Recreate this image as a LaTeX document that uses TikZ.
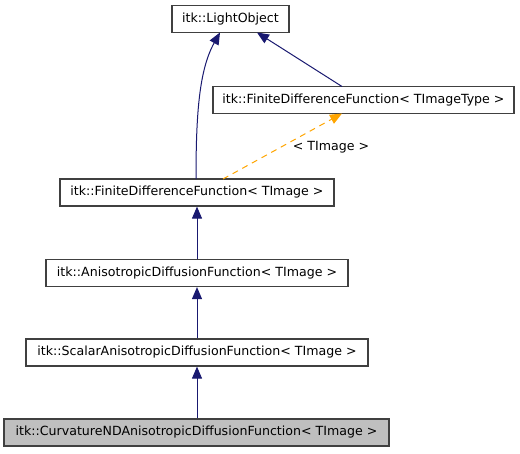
\documentclass[tikz,border=0pt]{standalone}
\usepackage{fontspec}
\setmainfont{DejaVu Sans}
\usetikzlibrary{arrows.meta}
\definecolor{edgeblue}{HTML}{191970}
\definecolor{edgeorange}{HTML}{FFA500}
\definecolor{boxline}{HTML}{404040}
\definecolor{boxgray}{HTML}{BFBFBF}
\begin{document}
\begin{tikzpicture}[x=1pt,y=-1pt,
  cls/.style={draw=boxline,line width=1.2pt,fill=white,minimum height=27pt,inner sep=0pt,font=\fontsize{12.6}{14}\selectfont},
  inh/.style={draw=edgeblue,line width=1pt,-{Triangle[length=12pt,width=10pt]}},
  tmpl/.style={draw=edgeorange,line width=1pt,dash pattern=on 6pt off 5pt,-{Triangle[length=12pt,width=10pt]}},
  lbl/.style={font=\fontsize{12.6}{14}\selectfont,inner sep=0pt}]
\useasboundingbox (0,0) rectangle (520,453);
\node[cls,minimum width=117pt] (lo) at (230.5,19) {itk::LightObject};
\node[cls,minimum width=301pt] (tt) at (363.5,100) {itk::FiniteDifferenceFunction< TImageType >};
\node[cls,minimum width=274pt] (fd) at (197,192.5) {itk::FiniteDifferenceFunction< TImage >};
\node[cls,minimum width=302pt] (ad) at (197,273) {itk::AnisotropicDiffusionFunction< TImage >};
\node[cls,minimum width=342pt] (sa) at (197,352.5) {itk::ScalarAnisotropicDiffusionFunction< TImage >};
\node[cls,minimum width=385pt,fill=boxgray] (cu) at (196.5,432.5) {itk::CurvatureNDAnisotropicDiffusionFunction< TImage >};
\coordinate (loA) at (220,32.5);
\coordinate (loB) at (257,32.5);
\coordinate (fdA) at (196,179);
\coordinate (fdB) at (223,179);
\coordinate (ttA) at (342,86.5);
\coordinate (ttB) at (342,113.5);
\draw[inh] (fdA) .. controls (196,115) and (199,70) .. (loA);
\draw[inh] (ttA) -- (loB);
\draw[tmpl] (fdB) -- (ttB);
\node[lbl] (tl) at (331,147) {< TImage >};
\draw[inh] (ad.north -| fd.south) -- (fd.south);
\draw[inh] (sa.north) -- (ad.south);
\draw[inh] (cu.north -| sa.south) -- (sa.south);
\end{tikzpicture}
\end{document}
